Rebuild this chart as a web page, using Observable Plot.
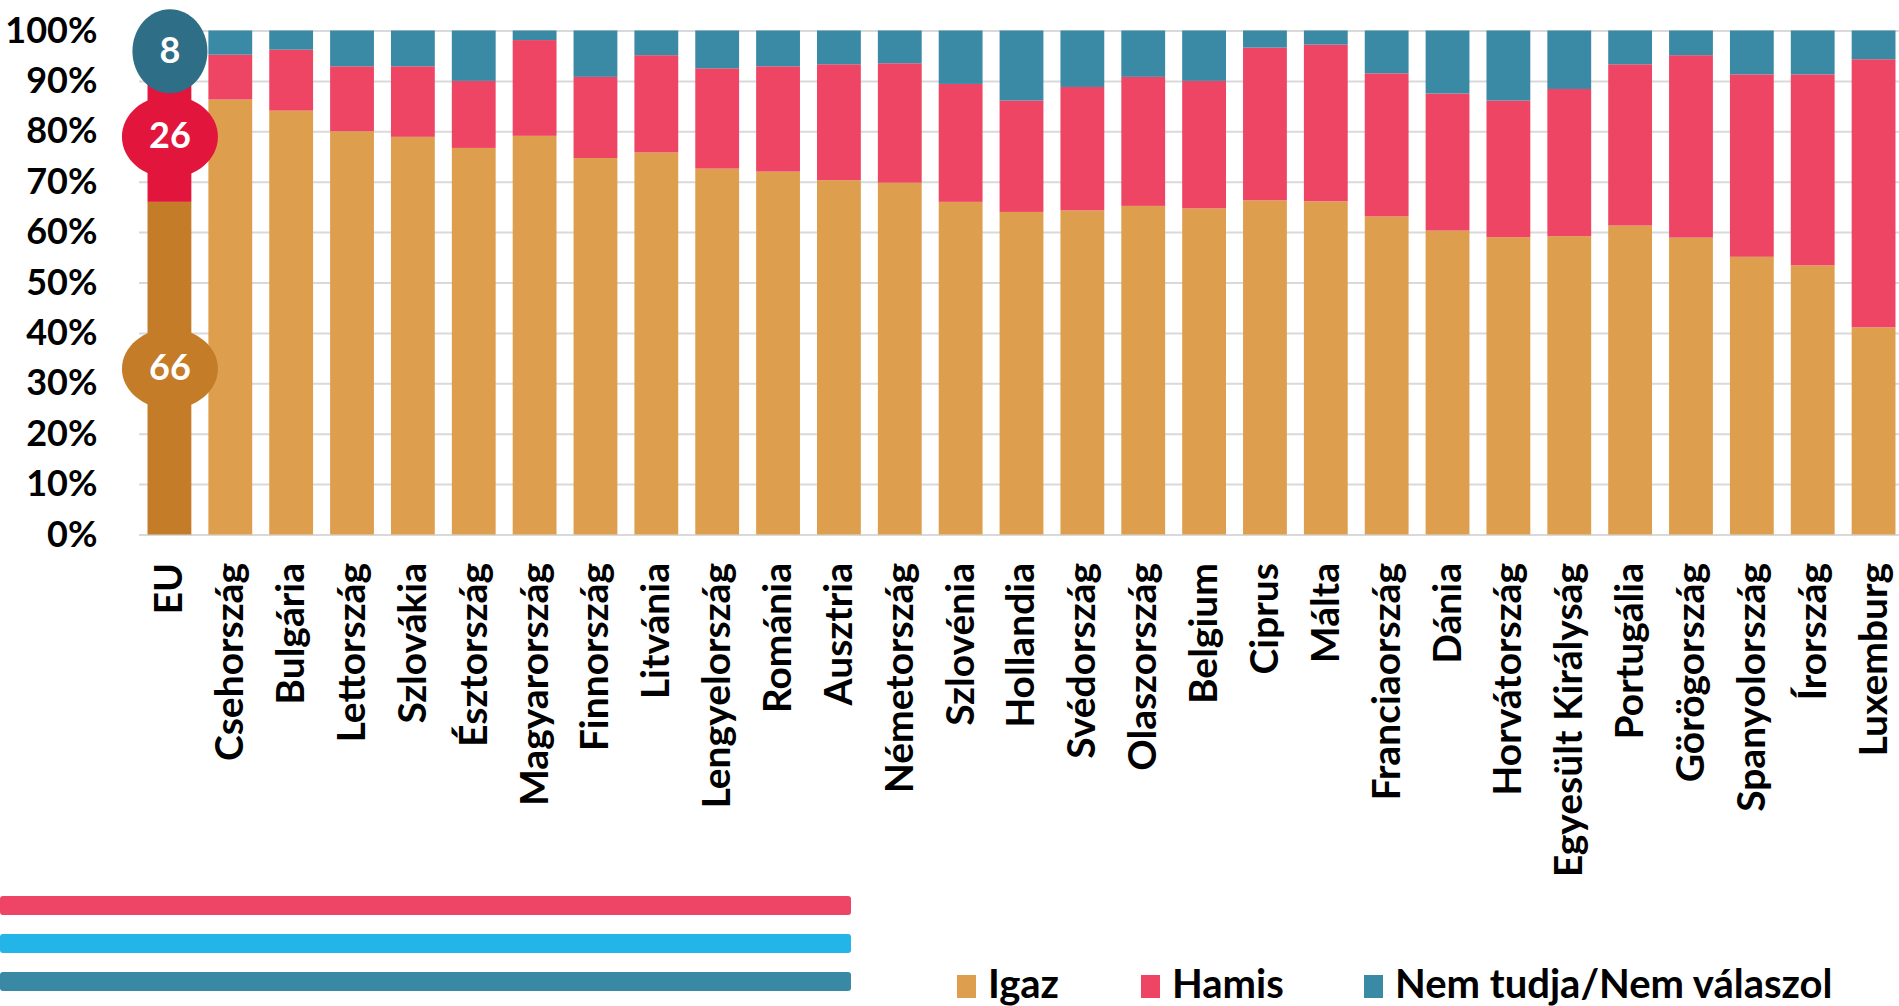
<!DOCTYPE html>
<html>
<head>
<meta charset="utf-8">
<script src="https://cdn.jsdelivr.net/npm/d3@7"></script>
<script src="https://cdn.jsdelivr.net/npm/@observablehq/plot@0.6"></script>
<style>
  html, body { margin: 0; padding: 0; background: #fff; }
  #wrap { position: relative; width: 1899px; height: 1006px; overflow: hidden; font-family: Lato, "Open Sans", sans-serif; }
  #chart svg { display: block; }
  .deco { position: absolute; left: 0; width: 851px; height: 19px; border-radius: 3px; }
  .lg-sw { position: absolute; top: 975px; width: 19px; height: 23px; }
  .lg-tx { position: absolute; top: 963px; font-size: 40px; line-height: 40px; font-weight: bold; color: #000; white-space: nowrap; }
</style>
</head>
<body>
<div id="wrap">
  <div id="chart"></div>
</div>
<script>
// ---- data ----
const countries = ["EU","Csehország","Bulgária","Lettország","Szlovákia","Észtország","Magyarország","Finnország","Litvánia","Lengyelország","Románia","Ausztria","Németország","Szlovénia","Hollandia","Svédország","Olaszország","Belgium","Ciprus","Málta","Franciaország","Dánia","Horvátország","Egyesült Királyság","Portugália","Görögország","Spanyolország","Írország","Luxemburg"];
const igaz  = [66, 86.3, 84.1, 80.0, 78.9, 76.7, 79.1, 74.7, 75.8, 72.6, 72.0, 70.3, 69.8, 66.0, 64.0, 64.3, 65.2, 64.7, 66.3, 66.1, 63.1, 60.3, 59.0, 59.2, 61.3, 58.9, 55.1, 53.4, 41.1];
const hamis = [26,  8.9, 12.1, 12.9, 14.0, 13.3, 19.0, 16.1, 19.3, 19.9, 20.9, 23.0, 23.7, 23.4, 22.1, 24.5, 25.6, 25.3, 30.3, 31.1, 28.4, 27.2, 27.1, 29.2, 32.0, 36.2, 36.2, 37.9, 53.2];
const nemTudja = [8, 4.8, 3.8, 7.1, 7.1, 10.0, 1.9, 9.2, 4.9, 7.5, 7.1, 6.7, 6.5, 10.6, 13.9, 11.2, 9.2, 10.0, 3.4, 2.8, 8.5, 12.5, 13.9, 11.6, 6.7, 4.9, 8.7, 8.7, 5.7];
const answers = ["Igaz", "Hamis", "Nem tudja/Nem válaszol"];
const yTicks = [0, 10, 20, 30, 40, 50, 60, 70, 80, 90, 100];
const decoColors = ["#EE4466", "#23B4E8", "#3A89A4"];

// ---- styles ----
const colors   = ["#DD9F4E", "#EE4565", "#3A89A5"];
const euColors = ["#C47C28", "#E2163C", "#2F6E87"];
const ellipse = (rx, ry) => ({
  draw(ctx) {
    const k = 0.5523;
    ctx.moveTo(rx, 0);
    ctx.bezierCurveTo(rx, k * ry, k * rx, ry, 0, ry);
    ctx.bezierCurveTo(-k * rx, ry, -rx, k * ry, -rx, 0);
    ctx.bezierCurveTo(-rx, -k * ry, -k * rx, -ry, 0, -ry);
    ctx.bezierCurveTo(k * rx, -ry, rx, -k * ry, rx, 0);
    ctx.closePath();
  }
});
const bubbleShapes = [ellipse(48, 40), ellipse(48, 41), ellipse(37.5, 42)];

const series = [igaz, hamis, nemTudja];
const rows = countries.flatMap((c, i) => answers.map((a, j) => ({country: c, answer: a, idx: j, value: series[j][i]})));
const euRows = rows.filter(d => d.country === "EU");

const chart = Plot.plot({
  width: 1899,
  height: 890,
  marginLeft: 139,
  marginRight: 0,
  marginTop: 30.5,
  marginBottom: 355.5,
  style: {fontFamily: "Lato, 'Open Sans', sans-serif", background: "white", color: "#000", overflow: "visible"},
  x: {domain: countries, range: [139, 1904], paddingInner: 0.28, paddingOuter: 0.14, round: false, axis: null},
  y: {domain: [0, 100], axis: null},
  color: {type: "identity"},
  symbol: {type: "identity"},
  marks: [
    Plot.ruleY(yTicks, {stroke: "#d9d9d9", strokeWidth: 2}),
    Plot.barY(rows, Plot.stackY({
      x: "country", y: "value", z: "answer",
      fill: d => (d.country === "EU" ? euColors : colors)[d.idx]
    })),
    Plot.axisY(yTicks, {label: null, tickSize: 0, tickPadding: 42, tickFormat: d => d + "%", fontSize: 36, fontWeight: "bold", fill: "#000"}),
    Plot.axisX({label: null, tickSize: 0, tickPadding: 28, tickRotate: -90, fontSize: 39, fontWeight: "bold", fill: "#000"}),
    Plot.dot(euRows, Plot.stackY({
      x: "country", y: "value", z: "answer",
      fill: d => euColors[d.idx],
      symbol: d => bubbleShapes[d.idx],
      r: 40
    })),
    Plot.text(euRows, Plot.stackY({
      x: "country", y: "value", z: "answer",
      text: d => String(d.value),
      fill: "white", fontSize: 36, fontWeight: "bold"
    }))
  ]
});
document.getElementById("chart").appendChild(chart);

// decorative stripes and legend below the chart
const wrap = document.getElementById("wrap");
decoColors.forEach((c, i) => {
  const d = document.createElement("div");
  d.className = "deco";
  d.style.top = (896 + i * 38) + "px";
  d.style.background = c;
  wrap.appendChild(d);
});
const legendX = [957, 1141, 1364];
answers.forEach((a, i) => {
  const s = document.createElement("div");
  s.className = "lg-sw";
  s.style.left = legendX[i] + "px";
  s.style.background = colors[i];
  wrap.appendChild(s);
  const t = document.createElement("div");
  t.className = "lg-tx";
  t.style.left = (legendX[i] + 31) + "px";
  t.textContent = a;
  wrap.appendChild(t);
});
</script>
</body>
</html>
